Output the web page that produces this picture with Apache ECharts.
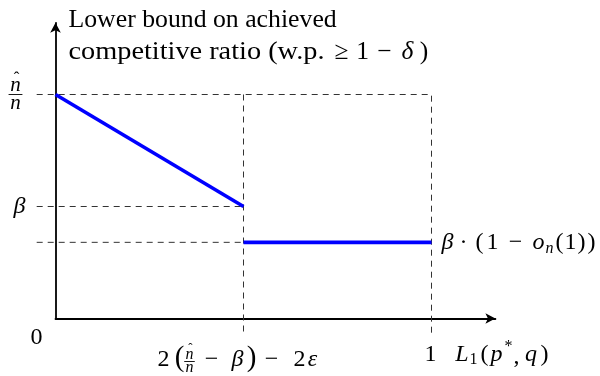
<!DOCTYPE html>
<html>
<head>
<meta charset="utf-8">
<script src="https://cdn.jsdelivr.net/npm/echarts@6/dist/echarts.min.js"></script>
<style>
  html, body { margin: 0; padding: 0; background: #fff; }
  #chart { width: 600px; height: 376px; }
</style>
</head>
<body>
<div id="chart"></div>
<script>
// x breakpoints: 0, 2(n̂/n − β) − 2ε, 1
var xBreaks = [0, 0.5, 1];
// y levels: n̂/n, β, β·(1 − o_n(1))
var yTop = 1;
var yBeta = 0.5;
var yLow = 0.34;
// axis ends (data units)
var xMax = 1.17;
var yMax = 1.32;
// how far the dashed guides run past the axes (data units)
var guideLeft = -0.05;
var guideBottom = -0.08;

var SERIF = "'Liberation Serif', 'DejaVu Serif', serif";
var W = 600, H = 376;
var PX_X = 376, PX_Y = 224; // pixels per data unit
var GRID = { left: 55.5, bottom: 57.5 };
GRID.right = W - GRID.left - xMax * PX_X;
GRID.top = H - GRID.bottom - yMax * PX_Y;

(function () {
  var myChart = echarts.init(document.querySelector("#chart"));

  // second, hidden grid on the same scale reaching past the axes, for the guides
  var guideGrid = {
    left: GRID.left + guideLeft * PX_X,
    right: GRID.right,
    top: GRID.top,
    bottom: GRID.bottom + guideBottom * PX_Y,
  };

  var axisCommon = {
    type: "value",
    min: 0,
    axisTick: { show: false },
    axisLabel: { show: false },
    splitLine: { show: false },
    axisLine: {
      show: true,
      onZero: false,
      symbol: ["none", "arrow"],
      symbolSize: [8, 10],
      lineStyle: { color: "#000", width: 1.8 },
    },
  };
  var hiddenAxis = { type: "value", gridIndex: 1, show: false };

  var dashed = {
    type: "line",
    xAxisIndex: 1,
    yAxisIndex: 1,
    symbol: "none",
    silent: true,
    lineStyle: { color: "#333", width: 1, type: [6, 5] },
  };
  var blue = {
    type: "line",
    symbol: "none",
    clip: false,
    silent: true,
    z: 3,
    lineStyle: { color: "#0000ff", width: 3.6 },
  };

  var option = {
    animation: false,
    grid: [GRID, guideGrid],
    xAxis: [
      Object.assign({}, axisCommon, { max: xMax }),
      Object.assign({}, hiddenAxis, { min: guideLeft, max: xMax }),
    ],
    yAxis: [
      Object.assign({}, axisCommon, { max: yMax }),
      Object.assign({}, hiddenAxis, { min: guideBottom, max: yMax }),
    ],
    series: [
      // 虚线辅助线
      Object.assign({}, dashed, {
        data: [[guideLeft, yTop], [xBreaks[2], yTop], [xBreaks[2], guideBottom]],
      }),
      Object.assign({}, dashed, {
        data: [[xBreaks[1], yTop], [xBreaks[1], guideBottom]],
      }),
      Object.assign({}, dashed, {
        data: [[guideLeft, yBeta], [xBreaks[1], yBeta]],
      }),
      Object.assign({}, dashed, {
        data: [[guideLeft, yLow], [xBreaks[1], yLow]],
      }),
      // 蓝色下界
      Object.assign({}, blue, {
        data: [[xBreaks[0], yTop], [xBreaks[1], yBeta]],
      }),
      Object.assign({}, blue, {
        data: [[xBreaks[1], yLow], [xBreaks[2], yLow]],
      }),
    ],
  };
  myChart.setOption(option);

  // labels, placed from the axis scales
  function px(x, y) {
    return myChart.convertToPixel({ gridIndex: 0 }, [x, y]);
  }
  function txt(s, x, y, opt) {
    opt = opt || {};
    return {
      type: "text",
      x: x,
      y: y,
      scaleX: opt.scaleX || 1,
      silent: true,
      style: {
        text: s,
        fontFamily: SERIF,
        fontSize: opt.size || 24,
        fontStyle: opt.italic ? "italic" : "normal",
        fill: "#000",
        align: opt.align || "center",
        verticalAlign: "middle",
      },
    };
  }
  // a row of glyphs, each given by its centre offset from x0
  function row(x0, y0, pieces) {
    return pieces.map(function (p) {
      return txt(p[0], x0 + p[1], y0 + (p[3] || 0), p[2]);
    });
  }
  // n̂ over n
  function fracN(cx, by, size) {
    return [
      txt("n", cx, by - size * 0.45, { size: size, italic: true }),
      txt("\u02C6", cx + 1, by - size * 0.78, { size: size * 0.8 }),
      {
        type: "line",
        silent: true,
        shape: { x1: cx - size * 0.33, y1: by, x2: cx + size * 0.33, y2: by },
        style: { stroke: "#000", lineWidth: 0.9 },
      },
      txt("n", cx, by + size * 0.42, { size: size, italic: true }),
    ];
  }

  var o = px(0, 0);
  var pTop = px(0, yTop);
  var pBeta = px(0, yBeta);
  var pLow = px(xBreaks[2], yLow);
  var mx = px(xBreaks[1], 0)[0];
  var one = px(xBreaks[2], 0)[0];
  var IT = { italic: true };
  var SUB = { size: 16, italic: true };
  var SUBR = { size: 16 };
  var BIG = { size: 29 };
  var T = { size: 25.5 };

  var bottomY = o[1] + 41;
  var rightY = o[1] + 36;
  var t1 = 20, t2 = 52;

  var graphic = [
    // y axis title
    txt("Lower bound on achieved", o[0] + 13, t1, { size: 25.5, align: "left", scaleX: 1.01 }),
    txt("competitive ratio (w.p.", o[0] + 13, t2, { size: 25.5, align: "left", scaleX: 1.11 }),
    txt("0", o[0] - 19, o[1] + 19),
    txt("\u03B2", o[0] - 36, pBeta[1], IT),
    txt("1", one - 1, rightY),
  ]
    // ≥ 1 − δ)
    .concat(row(o[0], t2, [
      ["\u2265", 286, T],
      ["1", 307, T],
      ["\u2212", 329, T],
      ["\u03B4", 352, { size: 25.5, italic: true }],
      [")", 368.5, T],
    ]))
    // L1(p*, q)
    .concat(row(one, rightY, [
      ["L", 30.5, IT],
      ["1", 42, SUBR, 5],
      ["(", 53],
      ["p", 65, IT],
      ["*", 77, SUBR, -8],
      [",", 85, null, 2],
      ["q", 99.5, IT],
      [")", 113],
    ]))
    // β · (1 − o_n(1))
    .concat(row(pLow[0], pLow[1], [
      ["\u03B2", 16, IT],
      ["\u00B7", 32],
      ["(", 48],
      ["1", 61],
      ["\u2212", 84],
      ["o", 107, IT],
      ["n", 118, SUB, 6],
      ["(", 128],
      ["1", 139],
      [")", 150],
      [")", 160],
    ]))
    // 2(n̂/n − β) − 2ε
    .concat(row(mx, bottomY, [
      ["2", -80],
      ["(", -64, BIG, -1],
      ["\u2212", -32],
      ["\u03B2", -6, IT],
      [")", 8, BIG, -1],
      ["\u2212", 28],
      ["2", 56],
      ["\u03B5", 69, IT],
    ]))
    .concat(fracN(o[0] - 40, pTop[1], 21))
    .concat(fracN(mx - 54, bottomY + 2, 16));

  myChart.setOption({ graphic: graphic });
})();
</script>
</body>
</html>
